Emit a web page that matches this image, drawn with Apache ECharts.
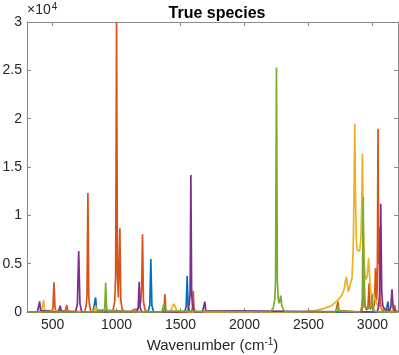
<!DOCTYPE html>
<html>
<head>
<meta charset="utf-8">
<script src="https://cdn.jsdelivr.net/npm/echarts@6/dist/echarts.min.js"></script>
<style>
  html, body { margin: 0; padding: 0; background: #fff; }
  #chart { width: 399px; height: 355px; }
</style>
</head>
<body>
<div id="chart"></div>
<script>
// tick labels
const xTicks = [500, 1000, 1500, 2000, 2500, 3000];

// spectra: [wavenumber, intensity]
const blueSpec = [
  [300, 0], [816, 0], [828, 200], [836, 1520], [844, 200], [856, 0],
  [1246, 0], [1260, 700], [1268, 5480], [1276, 700], [1290, 0],
  [1530, 0], [1544, 500], [1552, 3720], [1560, 500], [1574, 0],
  [3104, 0], [3115, 150], [3122, 1070], [3129, 150], [3142, 0], [3200, 0]
];
const orangeSpec = [
  [300, 0], [490, 0], [503, 400], [511, 3070], [519, 400], [532, 0],
  [596, 0], [605, 100], [612, 720], [619, 100], [628, 0],
  [752, 0], [764, 800], [769, 1700], [776, 12300], [783, 1700], [788, 800], [800, 0],
  [970, 0], [986, 1100], [993, 3800], [1000, 30000], [1007, 3800], [1014, 1500],
  [1020, 1700], [1026, 8650], [1033, 1200], [1044, 300], [1062, 0],
  [1110, 0], [1135, 250], [1150, 450], [1165, 300], [1180, 380], [1189, 1000],
  [1196, 2600], [1203, 8030], [1210, 1100], [1222, 250], [1238, 0],
  [1360, 0], [1371, 250], [1378, 1860], [1385, 250], [1396, 0],
  [1583, 0], [1592, 300], [1599, 2200], [1606, 300], [1617, 0],
  [2713, 0], [2724, 150], [2731, 1070], [2738, 150], [2749, 0],
  [2913, 0], [2925, 550], [2934, 4000], [2942, 550], [2955, 200],
  [2965, 450], [2974, 2960], [2981, 450], [2995, 250], [3008, 400],
  [3016, 900], [3024, 4520], [3032, 1200], [3038, 2500], [3044, 18950],
  [3048, 5000], [3052, 8800], [3058, 1500], [3068, 400], [3085, 100],
  [3158, 0], [3167, 100], [3174, 720], [3181, 100], [3190, 0], [3200, 0]
];
const yellowSpec = [
  [300, 0], [412, 0], [423, 170], [430, 1240], [437, 170], [448, 0],
  [820, 0], [829, 90], [836, 650], [843, 90], [852, 0],
  [1408, 0], [1428, 250], [1440, 620], [1448, 830], [1456, 620], [1468, 250], [1488, 0],
  [2450, 0], [2550, 150], [2620, 350], [2680, 650], [2720, 1100], [2760, 1700],
  [2780, 2400], [2790, 3300], [2797, 3650], [2803, 2900], [2812, 2100], [2825, 2300],
  [2840, 3500], [2850, 6500], [2856, 12000], [2862, 19500], [2868, 12000], [2874, 7500],
  [2882, 6400], [2890, 6250], [2900, 6300], [2910, 7600], [2916, 11000], [2922, 16400],
  [2928, 9000], [2936, 5000], [2946, 3300], [2958, 3600], [2966, 4800], [2971, 5550],
  [2977, 4000], [2986, 2200], [3000, 1600], [3010, 1900], [3020, 1300], [3040, 700],
  [3080, 350], [3140, 150], [3200, 80]
];
const purpleSpec = [
  [300, 0], [381, 0], [392, 150], [399, 1100], [406, 150], [417, 0],
  [544, 0], [553, 90], [560, 650], [567, 90], [576, 0],
  [680, 0], [694, 850], [704, 6300], [714, 850], [728, 0],
  [1158, 0], [1169, 420], [1177, 3130], [1185, 420], [1196, 0],
  [1556, 0], [1569, 900], [1575, 1900], [1581, 14170], [1587, 1900], [1593, 900], [1606, 0],
  [1672, 0], [1683, 150], [1690, 1070], [1697, 150], [1708, 0],
  [3038, 0], [3049, 650], [3057, 2000], [3065, 11200], [3073, 2000], [3081, 650],
  [3095, 300], [3135, 200], [3144, 450], [3153, 2350], [3162, 450], [3175, 100], [3200, 50]
];
const greenSpec = [
  [300, 0], [897, 0], [908, 400], [915, 3030], [922, 400], [933, 0],
  [1354, 0], [1363, 110], [1370, 830], [1377, 110], [1388, 0],
  [2200, 0], [2225, 400], [2237, 1300], [2243, 3200], [2250, 25300], [2257, 3200],
  [2264, 1300], [2272, 900], [2278, 1300], [2284, 1690], [2291, 700], [2305, 200], [2330, 0],
  [2715, 0], [2724, 90], [2731, 650], [2738, 90], [2747, 0],
  [2903, 0], [2916, 450], [2921, 1600], [2928, 11900], [2935, 1600], [2946, 500],
  [2985, 300], [2991, 550], [2997, 1760], [3003, 550], [3015, 100], [3040, 0], [3200, 0]
];

const spectra = [
  { data: blueSpec, color: '#0072BD' },
  { data: orangeSpec, color: '#D95319' },
  { data: yellowSpec, color: '#EDB120' },
  { data: purpleSpec, color: '#7E2F8E' },
  { data: greenSpec, color: '#77AC30' }
];

const fontFam = '"Liberation Sans", Arial, Helvetica, sans-serif';
const axisGrey = '#8a8a8a';
const textCol = '#262626';

const chart = echarts.init(document.getElementById('chart'));
chart.setOption({
  animation: false,
  textStyle: { fontFamily: fontFam },
  title: {
    text: 'True species',
    left: 212, top: 1, textAlign: 'center',
    textStyle: { fontSize: 16, fontWeight: 'bold', color: '#000', fontFamily: fontFam }
  },
  graphic: [{
    type: 'text', left: 27, top: 2,
    style: {
      text: '×10{sup|4}',
      fontSize: 14, fill: textCol, fontFamily: fontFam,
      rich: { sup: { fontSize: 10, verticalAlign: 'top', padding: [0, 0, 7, 1], fill: textCol } }
    }
  }],
  grid: { left: 27, right: 1, top: 22, bottom: 43, containLabel: false, outerBoundsMode: 'none' },
  xAxis: [{
    type: 'value', min: 300, max: 3200,
    name: 'Wavenumber (cm{sup|-1})',
    nameLocation: 'middle', nameGap: 24,
    nameTextStyle: {
      fontSize: 15, color: textCol, fontFamily: fontFam,
      rich: { sup: { fontSize: 10, verticalAlign: 'top', padding: [0, 0, 8, 0], color: textCol } }
    },
    axisLine: { show: true, onZero: false, lineStyle: { color: axisGrey, width: 1 } },
    axisTick: { show: true, inside: true, length: 4, customValues: xTicks, lineStyle: { color: axisGrey } },
    axisLabel: { customValues: xTicks, fontSize: 14, color: textCol, margin: 6, formatter: v => String(v) },
    splitLine: { show: false }
  }, {
    type: 'value', min: 300, max: 3200, position: 'top',
    axisLine: { show: true, onZero: false, lineStyle: { color: axisGrey, width: 1 } },
    axisTick: { show: true, inside: true, length: 4, customValues: xTicks, lineStyle: { color: axisGrey } },
    axisLabel: { show: false },
    splitLine: { show: false }
  }],
  yAxis: [{
    type: 'value', min: 0, max: 30000, interval: 5000,
    axisLine: { show: true, onZero: false, lineStyle: { color: axisGrey, width: 1 } },
    axisTick: { show: true, inside: true, length: 4, lineStyle: { color: axisGrey } },
    axisLabel: { fontSize: 14, color: textCol, margin: 5, formatter: v => String(v / 10000) },
    splitLine: { show: false }
  }, {
    type: 'value', min: 0, max: 30000, interval: 5000, position: 'right',
    axisLine: { show: true, onZero: false, lineStyle: { color: axisGrey, width: 1 } },
    axisTick: { show: true, inside: true, length: 4, lineStyle: { color: axisGrey } },
    axisLabel: { show: false },
    splitLine: { show: false }
  }],
  series: spectra.map(s => ({
    type: 'line',
    data: s.data,
    showSymbol: false,
    symbol: 'none',
    lineStyle: { color: s.color, width: 1.7 },
    itemStyle: { color: s.color },
    clip: true
  }))
});
</script>
</body>
</html>
